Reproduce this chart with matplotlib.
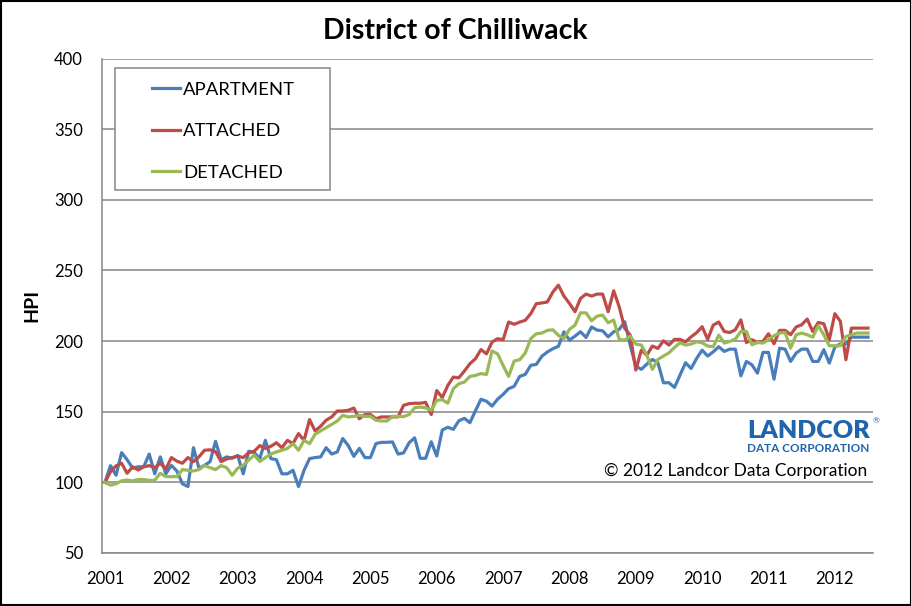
import matplotlib
matplotlib.use("Agg")
import matplotlib.pyplot as plt
from matplotlib.patches import Rectangle
import numpy as np

plt.rcParams['font.family'] = ['Lato', 'DejaVu Sans']

title = "District of Chilliwack"
series_names = ["APARTMENT", "ATTACHED", "DETACHED"]
year_labels = [str(y) for y in range(2001, 2013)]

apartment = [100, 111.8, 105, 121, 116, 110, 111, 111, 120, 106, 118, 106, 112, 108, 99, 97,
             124.5, 110, 112, 114.6, 129, 116, 118, 117, 119, 106, 122, 121, 116.8, 129.7,
             116.8, 116, 106, 106, 108.5, 97, 108.5, 116.8, 117.5, 118, 124.5, 120, 121.5,
             131, 126, 118.4, 124, 117.5, 117.5, 127.4, 128.3, 128.3, 128.6, 120, 120.8, 128,
             131.5, 117, 117, 128.7, 118.6, 137, 139, 137.5, 143.6, 145.3, 142.2, 150.7, 158.8,
             157.4, 154, 158.8, 162.3, 166.3, 168, 175, 176.4, 182.8, 183.5, 189.2, 192.3,
             194.6, 196.3, 206.6, 200.7, 203.5, 206.6, 202.6, 210, 207.8, 207.3, 203, 206.6,
             208.3, 213.7, 197, 182.3, 180, 183.7, 187, 184.7, 170.5, 170.5, 167.2, 176, 184.7,
             180.6, 187.7, 193.6, 189.4, 192.4, 196, 192.7, 194.3, 194.3, 175.4, 185.6, 183.2,
             177.3, 192, 192, 173, 195, 194.3, 185.6, 191.5, 194.3, 194.3, 185.6, 185.6, 193.9,
             184.4, 195.8, 198.1, 198.1, 202.8, 202.8, 202.8, 202.8]

attached = [100, 107.5, 111.6, 113.5, 106.4, 111, 108.7, 111, 111.8, 110.4, 113.5, 109.4,
            117.5, 115, 113.5, 117.5, 114.6, 118, 122.7, 123, 121.7, 114.6, 116.5, 117.5,
            118.6, 117.5, 121, 122, 126, 124, 125.5, 128, 124.5, 129.7, 127.4, 134.5, 129.7,
            144.4, 136.4, 139.7, 144, 146.3, 150.5, 150.5, 151, 152.6, 145, 148, 148, 145,
            146.3, 146.3, 146.3, 146.3, 154.5, 155.7, 156, 156, 156.6, 148, 165, 160, 168.6,
            174.5, 174, 178.8, 184, 187.5, 194, 191, 199.3, 201.7, 201, 213.5, 211.9, 213.5,
            214.7, 219.4, 226.5, 227, 227.7, 234.7, 239.6, 231.9, 226.7, 220.8, 230.2, 233.3,
            231.9, 233.3, 233.3, 220.8, 235.6, 224.3, 209, 204.2, 179.5, 193.6, 190, 196.5,
            194.8, 200.2, 197.2, 201.2, 201.2, 199.5, 203, 206, 210.2, 201.2, 211.3, 213.5,
            206.8, 206.1, 208, 215, 199, 201, 199, 199.8, 205.2, 198.1, 207.6, 207.6, 204.5,
            210, 211.6, 215.6, 206.8, 213.2, 212.3, 201, 219.4, 214, 186.8, 209.2, 209.2,
            209.2, 209.2]

detached = [100, 98, 99, 101, 101.6, 101, 102, 102, 101.4, 101.4, 106.4, 104, 104, 104, 109,
            108.5, 108, 109, 111.8, 110.4, 109, 111.8, 110.4, 105, 110, 112, 115.8, 119.2,
            114.7, 117.5, 120, 121.5, 122.7, 124, 127.4, 122.7, 129.7, 127.4, 134, 136.4,
            138.7, 141, 143.4, 147.4, 146.3, 146.7, 147.4, 146.7, 146.7, 144, 143.4, 143.4,
            146.7, 146.7, 146.5, 148, 152.8, 153.3, 152.8, 151, 158, 158.5, 156, 166.3, 169.8,
            171, 175, 175.7, 177, 176.4, 193, 191, 182.8, 175, 185.9, 186.8, 191.5, 201.7,
            205.2, 205.7, 207.6, 208, 204.1, 201.9, 208.3, 211.3, 220, 220, 214.4, 217.7,
            218.4, 213, 214.9, 201.2, 200.7, 203.5, 197.9, 197.2, 190, 180, 187, 189.4, 191.7,
            195.5, 198.8, 197.2, 197.9, 199.5, 198.8, 196.5, 196, 204.3, 198.6, 199.8, 201.4,
            206.8, 206.8, 197.4, 199, 198.6, 201, 203.8, 205.7, 206.1, 195, 204.5, 205.7,
            204.5, 202.8, 210.9, 204.5, 196.7, 196.7, 196.7, 203.3, 204.5, 205.7, 205.7, 205.7]

colors = ["#4A7EBB", "#BE4B48", "#98B954"]

W, H = 912, 606
fig = plt.figure(figsize=(W / 100, H / 100), dpi=100)
fig.patch.set_facecolor("white")

left, right, top, bottom = 102.5, 873, 58.7, 552.9
ax = fig.add_axes([left / W, 1 - bottom / H, (right - left) / W, (bottom - top) / H])

x = np.arange(len(apartment))
for name, vals, c in zip(series_names, [apartment, attached, detached], colors):
    ax.plot(x[:len(vals)], vals, color=c, lw=2.3, label=name, solid_joinstyle="round")

ax.set_xlim(-0.45, 138.9)
ax.set_ylim(50, 400)
ax.set_yticks(np.arange(50, 401, 50))
ax.set_xticks(np.arange(0, 12 * len(year_labels), 12))
ax.set_xticklabels(year_labels)
ax.yaxis.grid(True, color="#868686", lw=1.1)
ax.set_axisbelow(True)
for s in ["top", "right"]:
    ax.spines[s].set_visible(False)
for s in ["left", "bottom"]:
    ax.spines[s].set_color("#868686")
    ax.spines[s].set_linewidth(1.1)
ax.tick_params(axis="both", length=0, labelsize=12, colors="black")
ax.tick_params(axis="y", pad=14)
ax.tick_params(axis="x", pad=13)
ax.set_ylabel("HPI", fontsize=14, fontweight="bold", labelpad=10)

fig.text(455 / W, 1 - 31 / H, title, ha="center", va="center", fontsize=20.5, fontweight="bold")

# legend box
fig.patches.append(Rectangle((115 / W, 1 - 190 / H), (330 - 115) / W, (190 - 68) / H,
                             transform=fig.transFigure, facecolor="white", edgecolor="#868686",
                             lw=1.1, zorder=5))
leg = fig.legend(loc="upper left", bbox_to_anchor=(139 / W, 1 - 69 / H), frameon=False,
                 fontsize=13.3, handlelength=1.5, handletextpad=0.2, labelspacing=1.37,
                 borderpad=0.2)
leg.set_zorder(6)

# Landcor logo and copyright
fig.text(870 / W, 1 - 431 / H, "LANDCOR", ha="right", va="center", fontsize=18,
         fontweight="heavy", color="#1F64AD")
fig.text(873 / W, 1 - 421 / H, "®", ha="left", va="center", fontsize=6, color="#1F64AD")
fig.text(869 / W, 1 - 449 / H, "DATA CORPORATION", ha="right", va="center", fontsize=8.5,
         fontweight="bold", color="#1F64AD")
fig.text(867 / W, 1 - 471 / H, "© 2012 Landcor Data Corporation", ha="right", va="center",
         fontsize=12.5, color="black")

# outer border
fig.patches.append(Rectangle((0.0012, 0.0017), 0.9976, 0.9966, transform=fig.transFigure,
                             facecolor="none", edgecolor="black", lw=1.5, zorder=10))

fig.savefig("out.png", dpi=100, facecolor="white")
